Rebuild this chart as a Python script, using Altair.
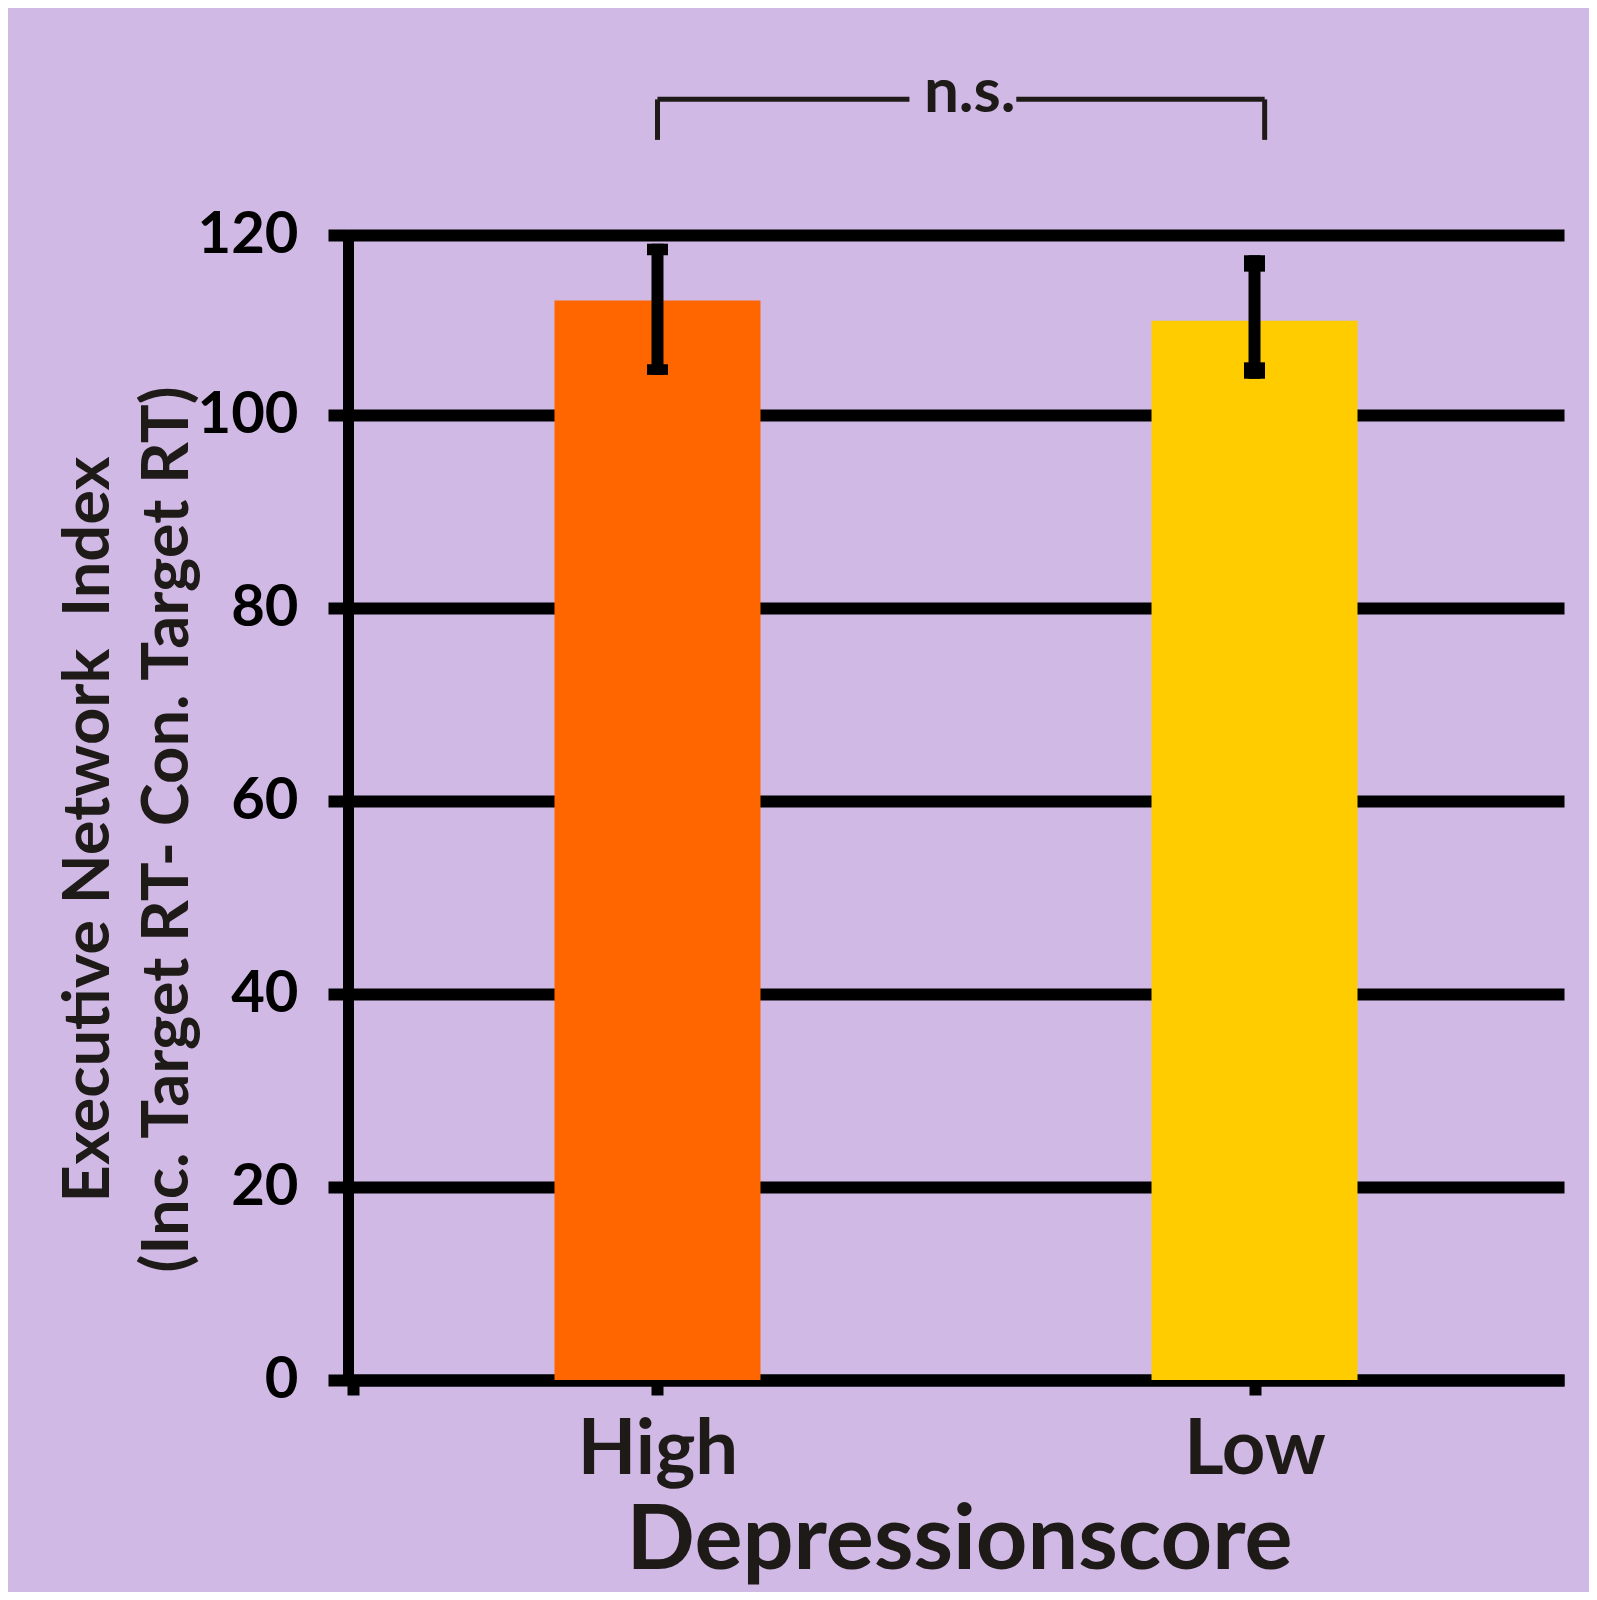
import altair as alt
import pandas as pd

# ---- data ----
groups = ["High", "Low"]
means = [111.9, 109.8]
err_upper = [117.8, 116.6]        # top of error bar (outer edge of cap)
err_upper_cap = [116.6, 114.9]    # inner edge of upper cap
err_lower = [104.2, 103.8]        # bottom of error bar (outer edge of cap)
err_lower_cap = [105.3, 105.5]    # inner edge of lower cap
bar_colors = ["#FF6600", "#FFCC00"]
y_ticks = [0, 20, 40, 60, 80, 100, 118.7]
y_top_label = "120"
sig_text = "n.s."
x_title = "Depressionscore"
y_title = ["Executive Network\u00a0 Index", "(Inc. Target RT- Con. Target RT)"]

# bracket annotation (in data coordinates)
br_left, br_right = 0.0, 1.017
br_gap_left, br_gap_right = 0.422, 0.601
br_top, br_bottom = 132.76, 128.56
sig_x, sig_y = 0.523, 131.5

BG = "#D1B9E5"
INK = "#1E1A17"
FONT = "Lato"

df = pd.DataFrame({
    "group": groups,
    "pos": list(range(len(groups))),
    "mean": means,
    "upper": err_upper,
    "upper_cap": err_upper_cap,
    "lower": err_lower,
    "lower_cap": err_lower_cap,
})

xscale = alt.Scale(domain=[-0.51, 1.51], nice=False, zero=False)
yscale = alt.Scale(domain=[0, 118.7], nice=False, zero=True)

label_expr = " : ".join(
    [f"datum.value == {i} ? '{g}'" for i, g in enumerate(groups)]
) + " : ''"

x_axis = alt.Axis(
    values=[-0.51] + list(range(len(groups))),
    labelExpr=label_expr,
    title=x_title,
    grid=False,
    domainColor="black", domainWidth=12,
    tickColor="black", tickWidth=12, tickSize=15,
    labelFont=FONT, labelFontSize=76, labelFontWeight="bold", labelColor=INK,
    labelBaseline="alphabetic", labelPadding=78,
    titleFont=FONT, titleFontSize=90, titleFontWeight="bold", titleColor=INK,
    titleBaseline="alphabetic", titleX=611, titleY=188, titleAlign="center",
)

y_axis = alt.Axis(
    values=y_ticks,
    labelExpr=f"datum.value > 110 ? '{y_top_label}' : datum.label",
    title=y_title,
    grid=True, gridColor="black", gridWidth=12, gridOpacity=1,
    domainColor="black", domainWidth=11, domainCap="square",
    tickColor="black", tickWidth=12, tickSize=20,
    labelFont=FONT, labelFontSize=58, labelFontWeight="bold", labelColor="black",
    labelPadding=30, labelAlign="right", labelBaseline="middle",
    titleFont=FONT, titleFontSize=65, titleFontWeight="bold", titleColor=INK,
    titleAngle=-90, titleBaseline="alphabetic", titleAlign="center",
    titleX=-240, titleY=594, titleLineHeight=79,
)

base = alt.Chart(df)

bars = base.mark_bar(size=206, orient="vertical").encode(
    x=alt.X("pos:Q", scale=xscale, axis=x_axis),
    y=alt.Y("mean:Q", scale=yscale, axis=y_axis, stack=None),
    color=alt.Color("group:N", scale=alt.Scale(domain=groups, range=bar_colors), legend=None),
)

stem = base.mark_bar(size=12, orient="vertical", color="black").encode(
    x="pos:Q", y="lower:Q", y2="upper:Q"
)
cap_top = base.mark_bar(size=21, orient="vertical", color="black").encode(
    x="pos:Q", y="upper_cap:Q", y2="upper:Q"
)
cap_bot = base.mark_bar(size=21, orient="vertical", color="black").encode(
    x="pos:Q", y="lower:Q", y2="lower_cap:Q"
)

seg = pd.DataFrame({
    "x": [br_left, br_gap_right, br_left, br_right],
    "x2": [br_gap_left, br_right, br_left, br_right],
    "y": [br_top, br_top, br_top, br_top],
    "y2": [br_top, br_top, br_bottom, br_bottom],
})
bracket = alt.Chart(seg).mark_rule(color=INK, strokeWidth=5, clip=False).encode(
    x="x:Q", x2="x2:Q", y="y:Q", y2="y2:Q"
)

sig = alt.Chart(pd.DataFrame({"x": [sig_x], "y": [sig_y], "t": [sig_text]})).mark_text(
    font=FONT, fontSize=62, fontWeight="bold", color=INK, baseline="alphabetic",
    align="center", clip=False,
).encode(x="x:Q", y="y:Q", text="t:N")

chart = alt.layer(bars, stem, cap_top, cap_bot, bracket, sig).properties(
    width=1216, height=1145,
    autosize="none",
    padding={"left": 340, "top": 227, "right": 25, "bottom": 212},
    background=BG,
).configure_view(strokeWidth=0)

chart.save("out.html", embed_options={"renderer": "svg", "actions": False})
